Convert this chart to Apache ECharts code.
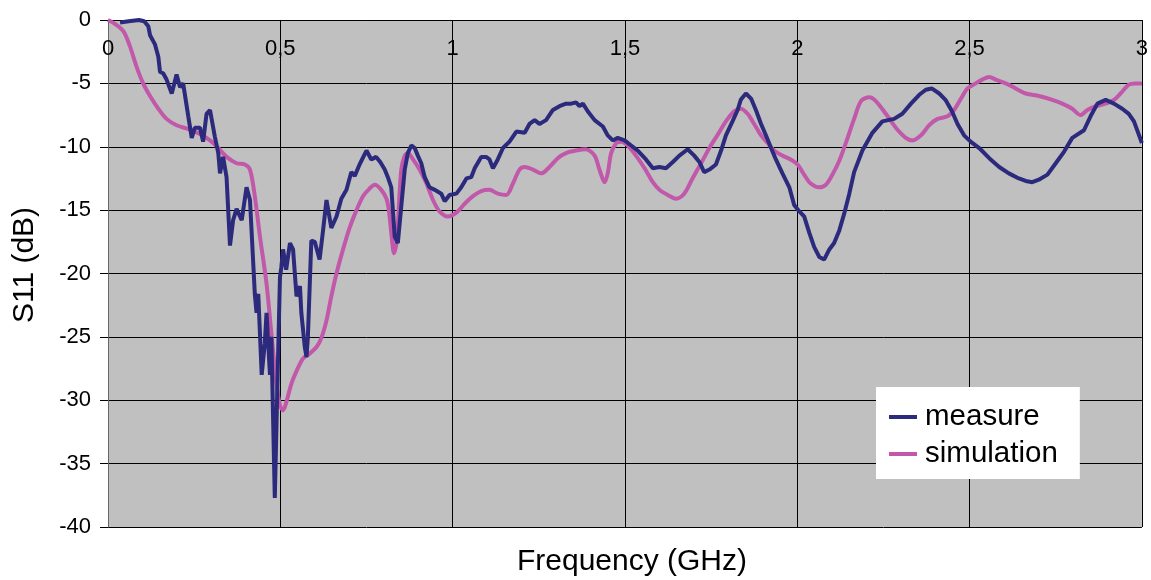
<!DOCTYPE html>
<html>
<head>
<meta charset="utf-8">
<script src="https://cdn.jsdelivr.net/npm/echarts@6/dist/echarts.min.js"></script>
<style>
html,body{margin:0;padding:0;background:#fff;}
#chart{width:1151px;height:580px;}
</style>
</head>
<body>
<div id="chart"></div>
<script>
// Frequency (GHz) and S11 (dB) readings
var measureFreq = [0.035,0.06,0.09,0.105,0.117,0.122,0.136,0.146,0.151,0.160,0.170,0.185,0.199,0.209,0.218,0.233,0.243,0.252,0.267,0.276,0.286,0.296,0.310,0.320,0.325,0.334,0.344,0.354,0.363,0.373,0.388,0.402,0.412,0.426,0.431,0.436,0.446,0.455,0.460,0.470,0.474,0.484,0.494,0.499,0.503,0.508,0.517,0.528,0.537,0.547,0.557,0.561,0.571,0.576,0.580,0.590,0.600,0.614,0.624,0.634,0.648,0.663,0.677,0.692,0.706,0.716,0.730,0.750,0.764,0.778,0.790,0.803,0.812,0.822,0.832,0.841,0.851,0.861,0.870,0.880,0.890,0.899,0.909,0.919,0.933,0.948,0.967,0.977,0.991,1.011,1.025,1.040,1.054,1.064,1.083,1.097,1.107,1.117,1.131,1.146,1.165,1.185,1.209,1.223,1.238,1.252,1.271,1.291,1.310,1.329,1.344,1.358,1.368,1.378,1.392,1.412,1.436,1.450,1.465,1.479,1.499,1.518,1.537,1.561,1.581,1.600,1.619,1.639,1.658,1.682,1.701,1.716,1.730,1.745,1.764,1.779,1.793,1.812,1.827,1.836,1.851,1.866,1.880,1.895,1.909,1.924,1.938,1.957,1.977,1.991,2.006,2.020,2.035,2.049,2.064,2.078,2.093,2.107,2.122,2.136,2.151,2.165,2.189,2.218,2.247,2.281,2.305,2.330,2.354,2.373,2.390,2.412,2.430,2.449,2.465,2.484,2.503,2.528,2.557,2.586,2.614,2.643,2.663,2.682,2.701,2.726,2.750,2.774,2.798,2.832,2.851,2.871,2.895,2.919,2.943,2.962,2.977,3.0];
var measureS11 = [-0.2,-0.1,0,-0.1,-0.5,-1.2,-1.9,-2.9,-4.1,-4.2,-4.7,-5.8,-4.3,-5.3,-5.0,-7.6,-9.3,-8.5,-8.5,-9.6,-7.4,-7.1,-9.2,-10.5,-12.1,-10.8,-12.4,-17.8,-15.8,-14.9,-15.8,-13.2,-14.2,-21.6,-23.1,-21.6,-28.0,-25.5,-23.1,-28.0,-25.0,-37.7,-26.0,-20.3,-19.5,-18.1,-19.7,-17.6,-18.1,-21.8,-21.0,-23.1,-25.8,-26.6,-25.0,-17.4,-17.5,-18.9,-16.6,-14.2,-16.4,-15.5,-14.1,-13.4,-12.0,-12.3,-11.4,-10.3,-11.0,-10.8,-11.2,-11.8,-12.4,-13.2,-17.1,-17.6,-14.7,-11.8,-10.5,-9.9,-10.1,-10.7,-11.3,-12.4,-13.2,-13.4,-13.7,-14.3,-13.8,-13.7,-13.2,-12.5,-12.4,-11.7,-10.8,-10.8,-11.0,-11.7,-11.0,-10.1,-9.6,-8.8,-8.9,-8.2,-7.9,-8.2,-7.9,-7.1,-6.8,-6.6,-6.6,-6.5,-6.8,-6.6,-7.2,-7.9,-8.4,-9.1,-9.5,-9.3,-9.5,-9.9,-10.3,-11.0,-11.7,-11.6,-11.7,-11.2,-10.7,-10.2,-10.7,-11.2,-12.0,-11.8,-11.4,-10.3,-9.1,-8.0,-7.1,-6.3,-5.8,-6.2,-7.1,-8.2,-9.1,-10.1,-11.0,-12.1,-13.2,-14.6,-15.1,-15.5,-16.8,-17.9,-18.7,-18.9,-18.1,-17.6,-16.6,-15.3,-13.7,-12.0,-10.3,-8.9,-8.0,-7.8,-7.4,-6.6,-5.9,-5.5,-5.4,-5.8,-6.3,-7.2,-8.2,-9.1,-9.6,-10.1,-10.9,-11.6,-12.1,-12.5,-12.7,-12.8,-12.6,-12.2,-11.3,-10.4,-9.3,-8.7,-7.6,-6.6,-6.3,-6.6,-7.0,-7.4,-8.0,-9.7];

var simFreq = [0,0.02,0.045,0.064,0.083,0.102,0.122,0.146,0.170,0.199,0.233,0.267,0.296,0.320,0.344,0.373,0.397,0.412,0.426,0.441,0.460,0.474,0.489,0.499,0.508,0.517,0.532,0.547,0.566,0.586,0.605,0.619,0.634,0.648,0.663,0.682,0.701,0.721,0.740,0.759,0.774,0.793,0.808,0.815,0.822,0.830,0.837,0.844,0.851,0.861,0.870,0.885,0.904,0.924,0.943,0.962,0.986,1.011,1.035,1.059,1.083,1.107,1.131,1.156,1.175,1.194,1.209,1.233,1.257,1.281,1.305,1.329,1.358,1.387,1.412,1.426,1.441,1.450,1.460,1.475,1.489,1.508,1.532,1.557,1.581,1.600,1.624,1.648,1.672,1.696,1.721,1.745,1.768,1.793,1.817,1.836,1.856,1.875,1.895,1.914,1.933,1.957,1.981,2.001,2.020,2.039,2.064,2.083,2.102,2.122,2.141,2.165,2.185,2.209,2.228,2.257,2.286,2.315,2.334,2.359,2.383,2.407,2.436,2.455,2.475,2.494,2.518,2.537,2.557,2.576,2.605,2.634,2.663,2.701,2.740,2.769,2.798,2.822,2.842,2.866,2.895,2.919,2.938,2.962,2.98,3.0];
var simS11 = [0,-0.3,-0.9,-2.1,-3.7,-5.0,-6.0,-7.0,-7.8,-8.3,-8.6,-9.0,-9.5,-10.1,-10.8,-11.3,-11.4,-11.8,-13.9,-17.1,-20.8,-24.7,-28.7,-30.4,-30.8,-30.2,-28.7,-27.7,-26.7,-26.3,-25.8,-25.1,-23.7,-21.8,-20.0,-18.1,-16.4,-15.0,-13.9,-13.3,-13.0,-13.4,-14.1,-15.0,-16.8,-18.4,-17.6,-14.7,-11.8,-10.7,-10.5,-11.0,-11.8,-12.9,-14.2,-15.1,-15.5,-15.2,-14.5,-13.9,-13.5,-13.4,-13.7,-13.8,-12.9,-11.8,-11.6,-11.8,-12.1,-11.6,-10.9,-10.5,-10.3,-10.2,-10.7,-11.8,-12.8,-12.1,-10.5,-9.7,-9.6,-9.9,-10.7,-11.7,-12.8,-13.4,-13.8,-14.1,-13.7,-12.5,-11.3,-10.1,-9.1,-8.0,-7.2,-7.0,-7.4,-8.2,-9.1,-9.7,-10.3,-10.7,-11.0,-11.4,-12.2,-12.9,-13.2,-13.0,-12.2,-11.1,-9.7,-7.8,-6.4,-6.1,-6.4,-7.4,-8.5,-9.3,-9.5,-9.1,-8.3,-7.8,-7.6,-7.1,-6.2,-5.4,-5.0,-4.7,-4.5,-4.7,-5.0,-5.4,-5.8,-6.0,-6.3,-6.6,-7.0,-7.5,-7.1,-6.8,-6.6,-6.3,-5.8,-5.1,-5.0,-5.0];

var seriesNames = ['measure', 'simulation'];
var xTitle = 'Frequency (GHz)';
var yTitle = 'S11 (dB)';

function zip(a, b) { return a.map(function (v, i) { return [v, b[i]]; }); }

var chart = echarts.init(document.getElementById('chart'), null, {renderer: 'canvas'});
var FONT = 'Liberation Sans, Arial, sans-serif';
chart.setOption({
  backgroundColor: '#ffffff',
  animation: false,
  grid: {left: 108, top: 20, right: 8, bottom: 53, show: true, backgroundColor: '#c0c0c0', borderWidth: 0},
  xAxis: {
    type: 'value', min: 0, max: 3, interval: 0.5, position: 'top',
    axisLine: {show: true, onZero: false, lineStyle: {color: '#000', width: 1}},
    axisTick: {show: false},
    axisLabel: {inside: true, margin: 18, fontSize: 22, color: '#000', fontFamily: FONT,
      formatter: function (v) { return String(v).replace('.', ','); }},
    splitLine: {show: true, lineStyle: {color: '#000', width: 1}}
  },
  yAxis: {
    type: 'value', min: -40, max: 0, interval: 5,
    axisLine: {show: true, lineStyle: {color: '#666', width: 1}},
    axisTick: {show: true, inside: false, length: 8, lineStyle: {color: '#000'}},
    axisLabel: {margin: 17, fontSize: 22, color: '#000', fontFamily: FONT},
    splitLine: {show: true, lineStyle: {color: '#000', width: 1}}
  },
  legend: {
    orient: 'vertical', left: 876, top: 387,
    backgroundColor: '#ffffff', borderWidth: 0,
    padding: [15, 22, 10, 13], itemGap: 7,
    icon: 'rect', itemWidth: 28, itemHeight: 4,
    textStyle: {fontSize: 29.5, color: '#000', fontFamily: FONT, padding: [0, 0, 0, 3]},
    data: seriesNames
  },
  graphic: [
    {type: 'text', x: 632, y: 562, style: {text: xTitle, fontSize: 30, fill: '#000', fontFamily: FONT, align: 'center', verticalAlign: 'middle'}},
    {type: 'text', x: 25, y: 265, rotation: Math.PI / 2, style: {text: yTitle, fontSize: 30, fill: '#000', fontFamily: FONT, align: 'center', verticalAlign: 'middle'}}
  ],
  series: [
    {name: seriesNames[0], type: 'line', data: zip(measureFreq, measureS11), showSymbol: false, symbol: 'none',
      lineStyle: {color: '#2c2a7c', width: 4}, itemStyle: {color: '#2c2a7c'}, smooth: false, z: 3},
    {name: seriesNames[1], type: 'line', data: zip(simFreq, simS11), showSymbol: false, symbol: 'none',
      lineStyle: {color: '#c158aa', width: 4}, itemStyle: {color: '#c158aa'}, smooth: 0.3, z: 2}
  ]
});
</script>
</body>
</html>
